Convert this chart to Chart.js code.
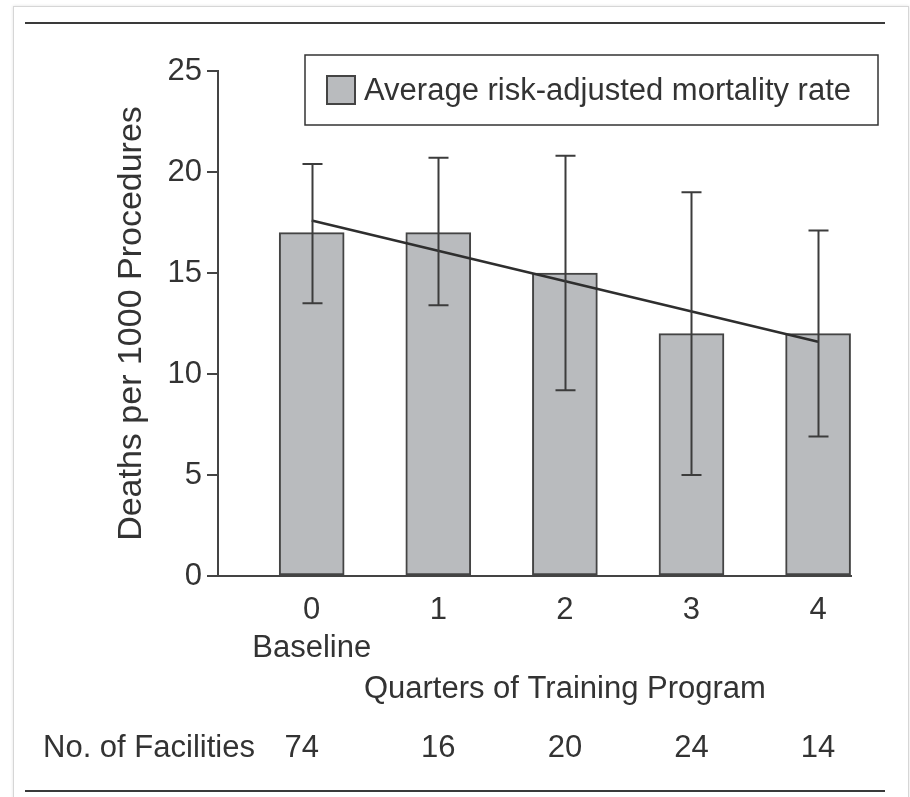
<!DOCTYPE html>
<html>
<head>
<meta charset="utf-8">
<script src="https://cdn.jsdelivr.net/npm/chart.js@4/dist/chart.umd.min.js"></script>
<style>
  html, body { margin: 0; padding: 0; background: #ffffff; }
  body { width: 910px; height: 797px; position: relative; overflow: hidden; }
  .card { position: absolute; left: 13px; top: 6px; width: 894px; height: 820px;
          border: 1px solid #d6d6d6; box-shadow: 0 0 3px rgba(0,0,0,0.12); background: #fff; }
  .rule { position: absolute; left: 25px; width: 860px; height: 2px; background: #3a3a3a; }
  #chart { position: absolute; left: 0; top: 0; }
</style>
</head>
<body>
<div class="card"></div>
<div class="rule" style="top:22px"></div>
<div class="rule" style="top:790px"></div>
<canvas id="chart" width="910" height="797"></canvas>
<script>
// Quarters of the training program (0 = baseline)
const quarters = [0, 1, 2, 3, 4];
// Average risk-adjusted mortality, deaths per 1000 procedures
const meanRate = [17, 17, 15, 12, 12];
// Error bar limits
const errLow = [13.5, 13.4, 9.2, 5.0, 6.9];
const errHigh = [20.4, 20.7, 20.8, 19.0, 17.1];
// Linear trend across the program (values at quarter 0 and quarter 4)
const trendQuarters = [0, 4];
const trendValues = [17.6, 11.6];
// Number of facilities per quarter
const facilities = [74, 16, 20, 24, 14];
const yTicks = [0, 5, 10, 15, 20, 25];

const FONT = "'Liberation Sans', Arial, Helvetica, sans-serif";
const INK = '#333333';
const BAR_FILL = '#b9bbbe';

// Error bars with caps, drawn on top of the bars
const errorBars = {
  id: 'errorBars',
  afterDatasetsDraw(chart) {
    const { ctx, scales: { x, y } } = chart;
    ctx.save();
    ctx.strokeStyle = '#3c3c3c';
    ctx.lineWidth = 2;
    quarters.forEach((q, i) => {
      const px = Math.round(x.getPixelForValue(q)) + 0.5;
      const lo = y.getPixelForValue(errLow[i]);
      const hi = y.getPixelForValue(errHigh[i]);
      ctx.beginPath();
      ctx.moveTo(px, lo); ctx.lineTo(px, hi);
      ctx.moveTo(px - 10, hi); ctx.lineTo(px + 10, hi);
      ctx.moveTo(px - 10, lo); ctx.lineTo(px + 10, lo);
      ctx.stroke();
    });
    ctx.restore();
  }
};

// Boxed legend, axis caption and facility counts
const annotations = {
  id: 'annotations',
  afterDraw(chart) {
    const { ctx, scales: { x } } = chart;
    ctx.save();
    // legend box
    ctx.strokeStyle = '#333';
    ctx.lineWidth = 1.5;
    ctx.strokeRect(305, 55, 573, 70);
    ctx.fillStyle = BAR_FILL;
    ctx.fillRect(327, 76, 28, 28);
    ctx.strokeStyle = '#444';
    ctx.lineWidth = 2;
    ctx.strokeRect(327, 76, 28, 28);
    ctx.fillStyle = INK;
    ctx.font = '31px ' + FONT;
    ctx.textBaseline = 'middle';
    ctx.textAlign = 'left';
    ctx.fillText(chart.data.datasets[0].label, 364, 91);

    // x axis caption centred under the quarters
    ctx.textAlign = 'center';
    const mid = (x.getPixelForValue(quarters[0]) + x.getPixelForValue(quarters[quarters.length - 1])) / 2;
    ctx.fillText('Quarters of Training Program', mid, 689);

    // facility counts row
    ctx.textAlign = 'left';
    ctx.fillText('No. of Facilities', 43, 748);
    ctx.textAlign = 'center';
    facilities.forEach((n, i) => {
      const shift = i === 0 ? -10 : 0;
      ctx.fillText(String(n), x.getPixelForValue(quarters[i]) + shift, 748);
    });
    ctx.restore();
  }
};

new Chart(document.getElementById('chart'), {
  type: 'bar',
  data: {
    datasets: [
      {
        type: 'bar',
        label: 'Average risk-adjusted mortality rate',
        data: quarters.map((q, i) => ({ x: q, y: meanRate[i] })),
        backgroundColor: BAR_FILL,
        borderColor: '#444444',
        borderWidth: 2,
        borderSkipped: false,
        barThickness: 65,
        order: 2
      },
      {
        type: 'line',
        label: 'Trend',
        data: trendQuarters.map((q, i) => ({ x: q, y: trendValues[i] })),
        borderColor: '#2e2e2e',
        borderWidth: 2.5,
        pointRadius: 0,
        fill: false,
        order: 1
      }
    ]
  },
  options: {
    responsive: false,
    animation: false,
    events: [],
    layout: { padding: { left: 0, right: 59, top: 71, bottom: 0 } },
    plugins: { legend: { display: false }, tooltip: { enabled: false } },
    scales: {
      x: {
        type: 'linear',
        offset: false,
        min: -0.74,
        max: 4.26,
        afterBuildTicks(scale) { scale.ticks = quarters.map(v => ({ value: v })); },
        afterFit(scale) { scale.height = 221; },
        grid: { display: false },
        border: { display: true, color: '#444', width: 2 },
        ticks: {
          color: INK,
          padding: 8,
          maxRotation: 0,
          autoSkip: false,
          font: { family: FONT, size: 31, lineHeight: 1.22 },
          callback: v => (v === 0 ? ['0', 'Baseline'] : String(v))
        }
      },
      y: {
        min: 0,
        max: 25,
        afterBuildTicks(scale) { scale.ticks = yTicks.map(v => ({ value: v })); },
        afterFit(scale) { scale.width = 218; },
        grid: { display: true, drawOnChartArea: false, drawTicks: true, tickLength: 11, color: '#444', lineWidth: 2 },
        border: { display: true, color: '#444', width: 2 },
        ticks: {
          color: INK,
          padding: 5,
          font: { family: FONT, size: 31 }
        },
        title: {
          display: true,
          text: 'Deaths per 1000 Procedures',
          color: INK,
          font: { family: FONT, size: 34 },
          padding: { top: 111, bottom: 0 }
        }
      }
    }
  },
  plugins: [errorBars, annotations]
});
</script>
</body>
</html>
